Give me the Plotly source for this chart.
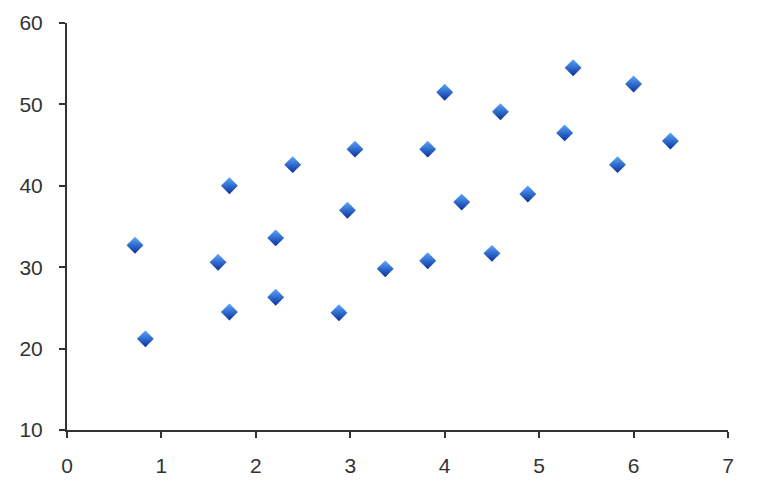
import plotly.graph_objects as go

x_vals = [0.72, 0.83, 1.60, 1.72, 1.72, 2.21, 2.21, 2.39, 2.88, 2.97, 3.05, 3.37,
          3.82, 3.82, 4.00, 4.18, 4.50, 4.59, 4.88, 5.27, 5.36, 5.83, 6.00, 6.39]
y_vals = [32.7, 21.2, 30.6, 40.0, 24.5, 33.6, 26.3, 42.6, 24.4, 37.0, 44.5, 29.8,
          30.8, 44.5, 51.5, 38.0, 31.7, 49.1, 39.0, 46.5, 54.5, 42.6, 52.5, 45.5]
x_ticks = [0, 1, 2, 3, 4, 5, 6, 7]
y_ticks = [10, 20, 30, 40, 50, 60]

fig = go.Figure()
fig.add_trace(go.Scatter(
    x=x_vals, y=y_vals, mode="markers",
    marker=dict(symbol="diamond", size=13, color="#5aa8ff",
                gradient=dict(type="vertical", color="#0a2f9a"),
                line=dict(width=0)),
    showlegend=False,
    cliponaxis=False,
))

axis_common = dict(showline=True, linecolor="#333333", linewidth=2,
                   ticks="outside", ticklen=6, tickwidth=2, tickcolor="#333333",
                   showgrid=False, zeroline=False, automargin=False,
                   tickfont=dict(family="Liberation Sans, Arial, sans-serif", size=21, color="#333333"))

fig.update_xaxes(range=[0, 7], tickvals=x_ticks, ticklabelstandoff=10, **axis_common)
fig.update_yaxes(range=[10, 60], tickvals=y_ticks, ticklabelstandoff=12, **axis_common)

fig.update_layout(
    width=760, height=477,
    margin=dict(l=59, r=40, t=15, b=55),
    plot_bgcolor="white", paper_bgcolor="white",
)

fig.write_html("out.html")
